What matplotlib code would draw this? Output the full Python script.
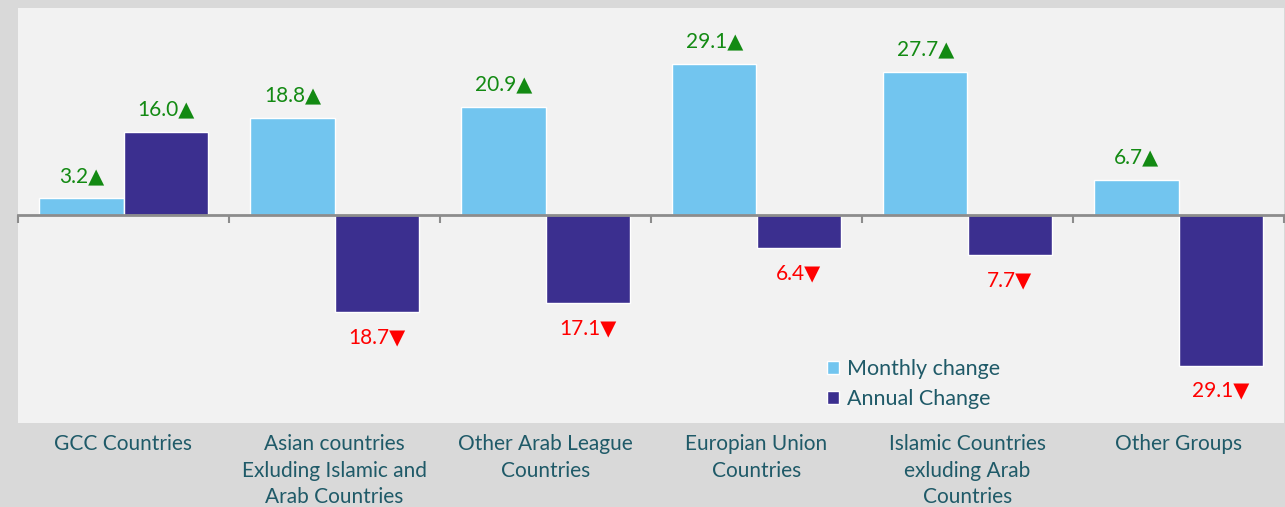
import numpy as np
import matplotlib
matplotlib.use("Agg")
import matplotlib.pyplot as plt

# ====== data ======
categories = ["GCC Countries",
              "Asian countries\nExluding Islamic and\nArab Countries",
              "Other Arab League\nCountries",
              "Europian Union\nCountries",
              "Islamic Countries\nexluding Arab\nCountries",
              "Other Groups"]
monthly = [3.2, 18.8, 20.9, 29.1, 27.7, 6.7]
annual = [16.0, -18.7, -17.1, -6.4, -7.7, -29.1]
series_names = ["Monthly change", "Annual Change"]

# ====== style ======
c_month = "#72c5ef"
c_annual = "#3b2f8f"
c_up = "#138a13"
c_down = "#ff0000"
c_text = "#1f5a68"
fonts = ["Lato", "DejaVu Sans"]
plt.rcParams["font.family"] = fonts

fig = plt.figure(figsize=(12.85, 5.07), dpi=100, facecolor="#d9d9d9")
ax = fig.add_axes([18 / 1285, 1 - 423 / 507, 1266 / 1285, 415 / 507])
ax.set_facecolor("#f2f2f2")

x = np.arange(len(categories))
w = 0.4
b1 = ax.bar(x - w / 2, monthly, w, color=c_month, edgecolor="white", linewidth=1, label=series_names[0], zorder=2)
b2 = ax.bar(x + w / 2, annual, w, color=c_annual, edgecolor="white", linewidth=1, label=series_names[1], zorder=2)

# value labels
for bars, vals in ((b1, monthly), (b2, annual)):
    for rect, v in zip(bars, vals):
        cx = rect.get_x() + rect.get_width() / 2
        if v >= 0:
            ax.annotate(f"{abs(v):.1f}\u25B2", (cx, v), xytext=(0, 9), textcoords="offset points",
                        ha="center", va="bottom", color=c_up, fontsize=15)
        else:
            ax.annotate(f"{abs(v):.1f}\u25BC", (cx, v), xytext=(0, -11), textcoords="offset points",
                        ha="center", va="top", color=c_down, fontsize=15)

ax.set_xlim(-0.5, len(categories) - 0.5)
ax.set_ylim(-40.2, 40)
for s in ["top", "right", "left"]:
    ax.spines[s].set_visible(False)
ax.spines["bottom"].set_position(("data", 0))
ax.spines["bottom"].set_color("#8c8c8c")
ax.spines["bottom"].set_linewidth(2)
ax.set_yticks([])
ax.set_xticks(np.arange(len(categories) + 1) - 0.5)
ax.set_xticklabels([])
ax.tick_params(axis="x", direction="out", length=6, width=1.5, color="#8c8c8c")

for i, lab in enumerate(categories):
    ax.text(i, -0.027, lab, transform=ax.get_xaxis_transform(), ha="center", va="top",
            color=c_text, fontsize=15, linespacing=1.4)

leg = ax.legend(loc="upper left", bbox_to_anchor=(0.624, 0.2), frameon=False,
                fontsize=15.5, handlelength=0.55, handleheight=0.55, handletextpad=0.35,
                labelspacing=0.45, labelcolor=c_text)

fig.savefig("out.png", dpi=100, facecolor=fig.get_facecolor())
